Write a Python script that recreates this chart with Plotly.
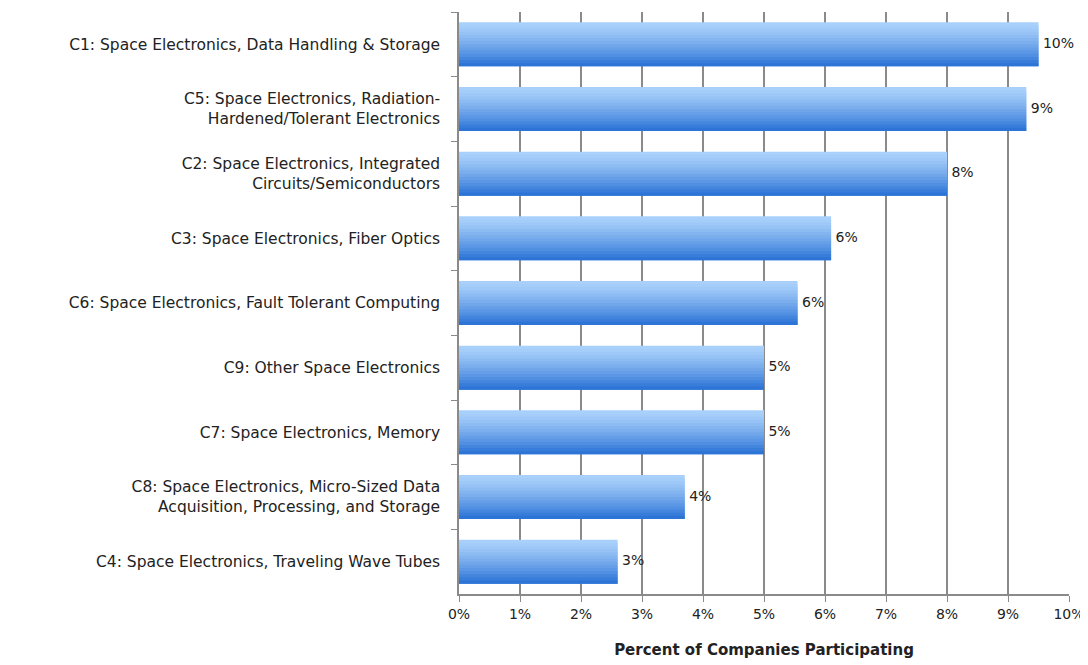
import plotly.graph_objects as go

categories = [
    "C1: Space Electronics, Data Handling & Storage",
    "C5: Space Electronics, Radiation-<br>Hardened/Tolerant Electronics",
    "C2: Space Electronics, Integrated<br>Circuits/Semiconductors",
    "C3: Space Electronics, Fiber Optics",
    "C6: Space Electronics, Fault Tolerant Computing",
    "C9: Other Space Electronics",
    "C7: Space Electronics, Memory",
    "C8: Space Electronics, Micro-Sized Data<br>Acquisition, Processing, and Storage",
    "C4: Space Electronics, Traveling Wave Tubes",
]
values = [0.095, 0.093, 0.080, 0.061, 0.0555, 0.050, 0.050, 0.037, 0.026]
value_labels = ["10%", "9%", "8%", "6%", "6%", "5%", "5%", "4%", "3%"]
x_ticks = [i / 100 for i in range(0, 11)]
x_tick_labels = [f"{i}%" for i in range(0, 11)]

FONT = "DejaVu Sans"
top_rgb = (168, 208, 251)
bot_rgb = (44, 116, 214)
n_slices = 14
bar_w = 0.68

fig = go.Figure()

# gradient bars: stack thin overlaid slices from light (top) to dark (bottom)
step = bar_w / n_slices
for k in range(n_slices):
    t = (k / (n_slices - 1)) ** 1.3
    r, g, b = (round(a + (c - a) * t) for a, c in zip(top_rgb, bot_rgb))
    last = k == n_slices - 1
    fig.add_trace(
        go.Bar(
            x=values,
            y=categories,
            orientation="h",
            width=step if last else step * 2,
            offset=-bar_w / 2 + k * step,
            marker=dict(color=f"rgb({r},{g},{b})", line=dict(width=0)),
            showlegend=False,
            hoverinfo="skip",
        )
    )

# value labels
fig.add_trace(
    go.Scatter(
        x=values,
        y=categories,
        mode="text",
        text=value_labels,
        texttemplate=" %{text}",
        textposition="middle right",
        textfont=dict(family=FONT, size=14, color="#222222"),
        showlegend=False,
        cliponaxis=False,
    )
)

fig.update_layout(
    barmode="overlay",
    width=1080,
    height=657,
    margin=dict(l=451, r=19, t=4, b=71),
    paper_bgcolor="white",
    plot_bgcolor="white",
    font=dict(family=FONT, size=15, color="#222222"),
    xaxis=dict(
        range=[0, 0.10],
        tickvals=x_ticks,
        ticktext=x_tick_labels,
        showgrid=True,
        gridcolor="#8a8a8a",
        gridwidth=1.5,
        zeroline=False,
        showline=True,
        linecolor="#8a8a8a",
        linewidth=1.5,
        ticks="outside",
        ticklen=6,
        tickcolor="#8a8a8a",
        tickfont=dict(family=FONT, size=14),
        title=dict(
            text="<b>Percent of Companies Participating</b>",
            font=dict(family=FONT, size=15),
            standoff=24,
        ),
    ),
    yaxis=dict(
        autorange="reversed",
        showline=True,
        linecolor="#8a8a8a",
        linewidth=1.5,
        ticks="outside",
        tickson="boundaries",
        ticklen=6,
        tickcolor="#8a8a8a",
        showgrid=False,
        ticklabelstandoff=14,
        tickfont=dict(family=FONT, size=15.5),
    ),
)

fig.write_html("out.html")
